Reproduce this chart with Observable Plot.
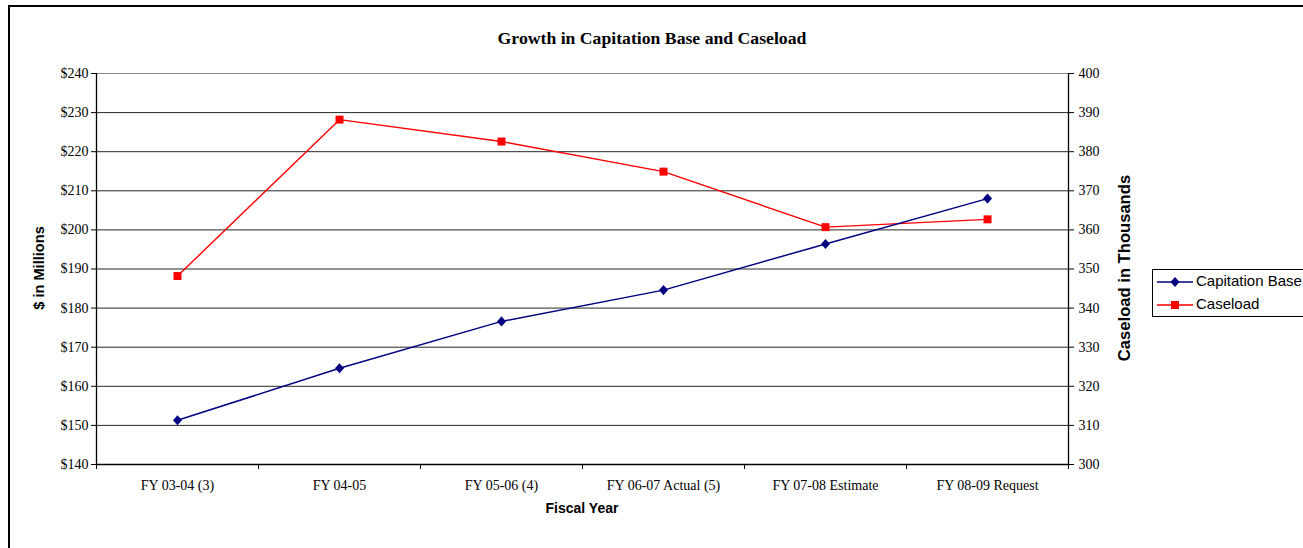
<!DOCTYPE html>
<html>
<head>
<meta charset="utf-8">
<script src="https://cdn.jsdelivr.net/npm/d3@7"></script>
<script src="https://cdn.jsdelivr.net/npm/@observablehq/plot@0.6"></script>
<style>
  html, body { margin: 0; padding: 0; background: #fff; }
  #chart svg { display: block; }
</style>
</head>
<body>
<div id="chart"></div>
<script>
// ---- data ----
const categories = ["FY 03-04 (3)", "FY 04-05", "FY 05-06 (4)", "FY 06-07 Actual (5)", "FY 07-08 Estimate", "FY 08-09 Request"];
const capitationBase = [151.3, 164.6, 176.6, 184.6, 196.4, 208.0];   // $ millions (left axis)
const caseload = [348.2, 388.2, 382.6, 374.9, 360.7, 362.7];          // thousands (right axis)
const leftTicks = [140, 150, 160, 170, 180, 190, 200, 210, 220, 230, 240];
const rightTicks = [300, 310, 320, 330, 340, 350, 360, 370, 380, 390, 400];
const seriesNames = ["Capitation Base", "Caseload"];
const titleText = "Growth in Capitation Base and Caseload";
const xTitle = "Fiscal Year";
const yLeftTitle = "$ in Millions";
const yRightTitle = "Caseload in Thousands";

// map right-axis values onto the left-axis scale
const rightToLeft = d3.scaleLinear([rightTicks[0], rightTicks[rightTicks.length - 1]], [leftTicks[0], leftTicks[leftTicks.length - 1]]);

const capData = categories.map((c, i) => ({i: i + 0.5, v: capitationBase[i]}));
const caseData = categories.map((c, i) => ({i: i + 0.5, v: rightToLeft(caseload[i])}));

const diamond = {
  draw(ctx, size) {
    const h = Math.sqrt(size / 1.8), w = h * 0.9;
    ctx.moveTo(0, -h); ctx.lineTo(w, 0); ctx.lineTo(0, h); ctx.lineTo(-w, 0); ctx.closePath();
  }
};

const W = 1303, H = 548;
const mL = 96, mR = W - 1068, mT = 73, mB = H - 464;

const chart = Plot.plot({
  width: W, height: H,
  marginLeft: mL, marginRight: mR, marginTop: mT, marginBottom: mB,
  style: {fontFamily: "'Liberation Serif', 'Times New Roman', serif", fontSize: "14px", color: "#000", background: "#fff", overflow: "visible"},
  x: {type: "linear", domain: [0, categories.length], axis: null},
  y: {type: "linear", domain: [leftTicks[0], leftTicks[leftTicks.length - 1]], axis: null},
  marks: [
    Plot.gridY(leftTicks.slice(1, -1), {stroke: "#000", strokeOpacity: 0.85, strokeWidth: 1}),
    Plot.ruleY([leftTicks[leftTicks.length - 1]], {stroke: "#888", strokeWidth: 1}),
    Plot.axisY(leftTicks, {anchor: "left", tickSize: 5, tickPadding: 3, tickFormat: d => "$" + d, label: null, stroke: "#000"}),
    Plot.axisY(rightTicks.map(rightToLeft), {anchor: "right", tickSize: 5, tickPadding: 5, tickFormat: d => String(Math.round(rightToLeft.invert(d))), label: null, stroke: "#000"}),
    Plot.axisX(d3.range(categories.length + 1), {anchor: "bottom", tickSize: 5, tickFormat: () => "", label: null, stroke: "#000"}),
    Plot.axisX(d3.range(categories.length).map(i => i + 0.5), {anchor: "bottom", tickSize: 0, tickPadding: 16, tickFormat: d => categories[Math.floor(d)], label: null}),
    Plot.ruleX([0, categories.length], {stroke: "#000", strokeWidth: 1.3}),
    Plot.ruleY([leftTicks[0]], {stroke: "#000", strokeWidth: 1.3}),
    Plot.line(caseData, {x: "i", y: "v", stroke: "#ff0000", strokeWidth: 1.4}),
    Plot.dot(caseData, {x: "i", y: "v", symbol: "square", r: 4.5, fill: "#ff0000", stroke: "none"}),
    Plot.line(capData, {x: "i", y: "v", stroke: "#000080", strokeWidth: 1.5}),
    Plot.dot(capData, {x: "i", y: "v", symbol: diamond, r: 3.8, fill: "#000080", stroke: "none"})
  ]
});

const svg = d3.select(chart);
// outer chart border
svg.insert("rect", ":first-child")
  .attr("x", 9).attr("y", 6).attr("width", 1330).attr("height", 560)
  .attr("fill", "none").attr("stroke", "#000").attr("stroke-width", 2);

const sans = "'Liberation Sans', Arial, sans-serif";
// title
svg.append("text").attr("x", 652).attr("y", 40).attr("text-anchor", "middle").attr("dominant-baseline", "middle")
  .attr("font-family", "'Liberation Serif', 'Times New Roman', serif").attr("font-weight", "bold").attr("font-size", 17.7)
  .text(titleText);
// x title
svg.append("text").attr("x", 582).attr("y", 509).attr("text-anchor", "middle").attr("dominant-baseline", "middle")
  .attr("font-family", sans).attr("font-weight", "bold").attr("font-size", 14)
  .text(xTitle);
// y titles
svg.append("text").attr("transform", "translate(40,268) rotate(-90)").attr("text-anchor", "middle").attr("dominant-baseline", "middle")
  .attr("font-family", sans).attr("font-weight", "bold").attr("font-size", 14.6)
  .text(yLeftTitle);
svg.append("text").attr("transform", "translate(1126,268) rotate(-90)").attr("text-anchor", "middle").attr("dominant-baseline", "middle")
  .attr("font-family", sans).attr("font-weight", "bold").attr("font-size", 16.6)
  .text(yRightTitle);

// legend
const lg = svg.append("g");
lg.append("rect").attr("x", 1152.5).attr("y", 269.5).attr("width", 170).attr("height", 47)
  .attr("fill", "#fff").attr("stroke", "#000").attr("stroke-width", 1);
const colors = ["#000080", "#ff0000"];
seriesNames.forEach((name, k) => {
  const yy = 282 + k * 23;
  lg.append("line").attr("x1", 1157).attr("x2", 1193).attr("y1", yy).attr("y2", yy)
    .attr("stroke", colors[k]).attr("stroke-width", 1.5);
  if (k === 0) {
    lg.append("path").attr("d", "M0,-5L4.5,0L0,5L-4.5,0Z").attr("transform", `translate(1175,${yy})`).attr("fill", colors[k]);
  } else {
    lg.append("rect").attr("x", 1171).attr("y", yy - 4).attr("width", 8).attr("height", 8).attr("fill", colors[k]);
  }
  lg.append("text").attr("x", 1196).attr("y", yy).attr("text-anchor", "start").attr("dominant-baseline", "middle")
    .attr("font-family", sans).attr("font-size", 15)
    .text(name);
});

document.getElementById("chart").appendChild(chart);
</script>
</body>
</html>
